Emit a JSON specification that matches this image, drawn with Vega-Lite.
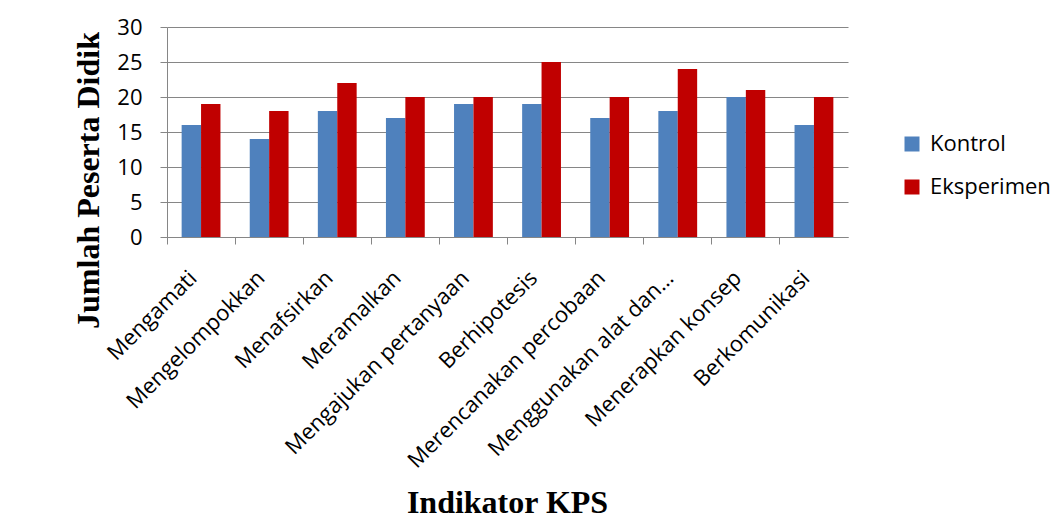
{
  "$schema": "https://vega.github.io/schema/vega-lite/v6.json",
  "width": 681,
  "height": 210,
  "autosize": {"type": "none"},
  "padding": {"left": 167, "top": 27, "right": 206, "bottom": 282},
  "background": "white",
  "data": {
    "values": [
      {"indikator": "Mengamati", "kelompok": "Kontrol", "jumlah": 16},
      {"indikator": "Mengamati", "kelompok": "Eksperimen", "jumlah": 19},
      {"indikator": "Mengelompokkan", "kelompok": "Kontrol", "jumlah": 14},
      {"indikator": "Mengelompokkan", "kelompok": "Eksperimen", "jumlah": 18},
      {"indikator": "Menafsirkan", "kelompok": "Kontrol", "jumlah": 18},
      {"indikator": "Menafsirkan", "kelompok": "Eksperimen", "jumlah": 22},
      {"indikator": "Meramalkan", "kelompok": "Kontrol", "jumlah": 17},
      {"indikator": "Meramalkan", "kelompok": "Eksperimen", "jumlah": 20},
      {"indikator": "Mengajukan pertanyaan", "kelompok": "Kontrol", "jumlah": 19},
      {"indikator": "Mengajukan pertanyaan", "kelompok": "Eksperimen", "jumlah": 20},
      {"indikator": "Berhipotesis", "kelompok": "Kontrol", "jumlah": 19},
      {"indikator": "Berhipotesis", "kelompok": "Eksperimen", "jumlah": 25},
      {"indikator": "Merencanakan percobaan", "kelompok": "Kontrol", "jumlah": 17},
      {"indikator": "Merencanakan percobaan", "kelompok": "Eksperimen", "jumlah": 20},
      {"indikator": "Menggunakan alat dan…", "kelompok": "Kontrol", "jumlah": 18},
      {"indikator": "Menggunakan alat dan…", "kelompok": "Eksperimen", "jumlah": 24},
      {"indikator": "Menerapkan konsep", "kelompok": "Kontrol", "jumlah": 20},
      {"indikator": "Menerapkan konsep", "kelompok": "Eksperimen", "jumlah": 21},
      {"indikator": "Berkomunikasi", "kelompok": "Kontrol", "jumlah": 16},
      {"indikator": "Berkomunikasi", "kelompok": "Eksperimen", "jumlah": 20}
    ]
  },
  "mark": {"type": "bar"},
  "encoding": {
    "x": {
      "field": "indikator",
      "type": "nominal",
      "sort": null,
      "scale": {"paddingInner": 0.43, "paddingOuter": 0.215},
      "axis": {
        "title": "Indikator KPS",
        "titleFont": "Liberation Serif",
        "titleFontSize": 32,
        "titleFontWeight": "bold",
        "titleColor": "black",
        "titleX": 340,
        "titleY": 275,
        "titleAlign": "center",
        "titleBaseline": "alphabetic",
        "labelAngle": -45,
        "labelFont": "Open Sans",
        "labelFontSize": 22,
        "labelColor": "black",
        "labelPadding": 23,
        "labelOffset": -15,
        "labelOverlap": false,
        "labelLimit": 400,
        "bandPosition": -0.377,
        "tickSize": 7,
        "tickColor": "#868686",
        "domainColor": "#868686",
        "grid": false
      }
    },
    "xOffset": {"field": "kelompok", "type": "nominal", "sort": ["Kontrol", "Eksperimen"]},
    "y": {
      "field": "jumlah",
      "type": "quantitative",
      "scale": {"domain": [0, 30], "nice": false},
      "axis": {
        "values": [0, 5, 10, 15, 20, 25, 30],
        "title": "Jumlah Peserta Didik",
        "titleFont": "Liberation Serif",
        "titleFontSize": 32,
        "titleFontWeight": "bold",
        "titleColor": "black",
        "titleX": -69,
        "titleY": 153,
        "titleAlign": "center",
        "titleBaseline": "alphabetic",
        "titleAngle": -90,
        "labelFont": "Open Sans",
        "labelFontSize": 22,
        "labelColor": "black",
        "labelPadding": 18,
        "tickSize": 7,
        "tickColor": "#868686",
        "domainColor": "#868686",
        "gridColor": "#868686",
        "grid": true
      }
    },
    "color": {
      "field": "kelompok",
      "type": "nominal",
      "sort": ["Kontrol", "Eksperimen"],
      "scale": {"domain": ["Kontrol", "Eksperimen"], "range": ["#4F81BD", "#C00000"]},
      "legend": {
        "title": null,
        "orient": "none",
        "legendX": 734,
        "legendY": 106,
        "padding": 0,
        "symbolType": "square",
        "symbolSize": 225,
        "symbolStrokeWidth": 0,
        "labelFont": "Open Sans",
        "labelFontSize": 22,
        "labelColor": "black",
        "labelOffset": 7,
        "rowPadding": 21
      }
    }
  },
  "config": {
    "view": {"stroke": null}
  }
}
